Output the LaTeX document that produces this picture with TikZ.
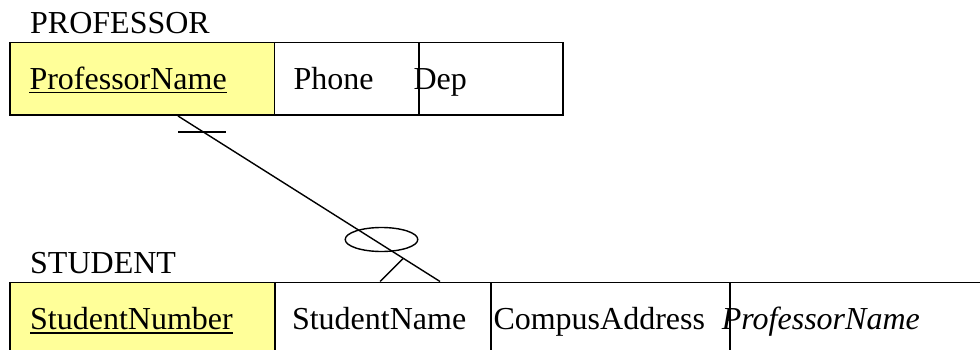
\documentclass[tikz,border=0pt]{standalone}
\usepackage{fontspec}
\setmainfont{Liberation Serif}
\usetikzlibrary{calc}
\definecolor{keyyellow}{RGB}{255,255,153}
\tikzset{
  cell/.style={draw=black, line width=1.7pt, inner sep=0pt, anchor=north west},
  keycell/.style={cell, fill=keyyellow},
  txt/.style={inner sep=0pt, anchor=base west, font=\fontsize{32}{38}\selectfont},
  uline/.style={line width=1.4pt},
  rel/.style={line width=1.4pt}
}
\begin{document}
\begin{tikzpicture}[x=1pt,y=-1pt]
  \clip (0,0) rectangle (980,350);
  \fill[white] (0,0) rectangle (980,350);

  % PROFESSOR table
  \node[txt] (ptitle) at (30,33.5) {PROFESSOR};
  \node[keycell, minimum width=264.5pt, minimum height=72.6pt] (pkey) at (9,41.7) {};
  \node[cell, minimum width=144.3pt, minimum height=72.6pt] (pphone) at (273.5,41.7) {};
  \node[cell, minimum width=144pt, minimum height=72.6pt] (pdep) at (417.8,41.7) {};
  \node[txt] (tpkey) at (29.3,90) {ProfessorName};
  \node[txt] (tphone) at (293.3,90) {Phone};
  \node[txt] (tdep) at (413.3,90) {Dep};
  \draw[uline] ([yshift=-2.7pt]tpkey.base west) -- ([yshift=-2.7pt]tpkey.base east);

  % STUDENT table
  \node[txt] (stitle) at (30,273) {STUDENT};
  \node[keycell, minimum width=264.7pt, minimum height=100pt] (skey) at (9.3,281.5) {};
  \node[cell, minimum width=216pt, minimum height=100pt] (sname) at (274,281.5) {};
  \node[cell, minimum width=239.3pt, minimum height=100pt] (saddr) at (490,281.5) {};
  \node[cell, minimum width=300pt, minimum height=100pt] (sfk) at (729.3,281.5) {};
  \node[txt] (tskey) at (30,329) {StudentNumber};
  \node[txt] (tsname) at (291.8,329) {StudentName};
  \node[txt] (tsaddr) at (493.3,329) {CompusAddress};
  \node[txt, font=\fontsize{32}{38}\selectfont\itshape] (tsfk) at (721.7,329) {ProfessorName};
  \draw[uline] ([yshift=-4pt]tskey.base west) -- ([yshift=-4pt]tskey.base east);

  % relationship: one (bar) on PROFESSOR, zero-or-many on STUDENT
  \coordinate (relA) at ([xshift=169pt]pkey.south west);
  \coordinate (relB) at ([xshift=166pt]sname.north west);
  \coordinate (foot) at ([xshift=106pt]sname.north west);
  \draw[rel] (relA) -- (relB);
  \draw[rel] ([yshift=-16pt]relA) -- ++(48,0);
  \draw[rel] ($(relA)!0.86!(relB)$) -- (foot);
  \draw[rel] (381.5,239.5) ellipse [x radius=36.3, y radius=12];
\end{tikzpicture}
\end{document}
